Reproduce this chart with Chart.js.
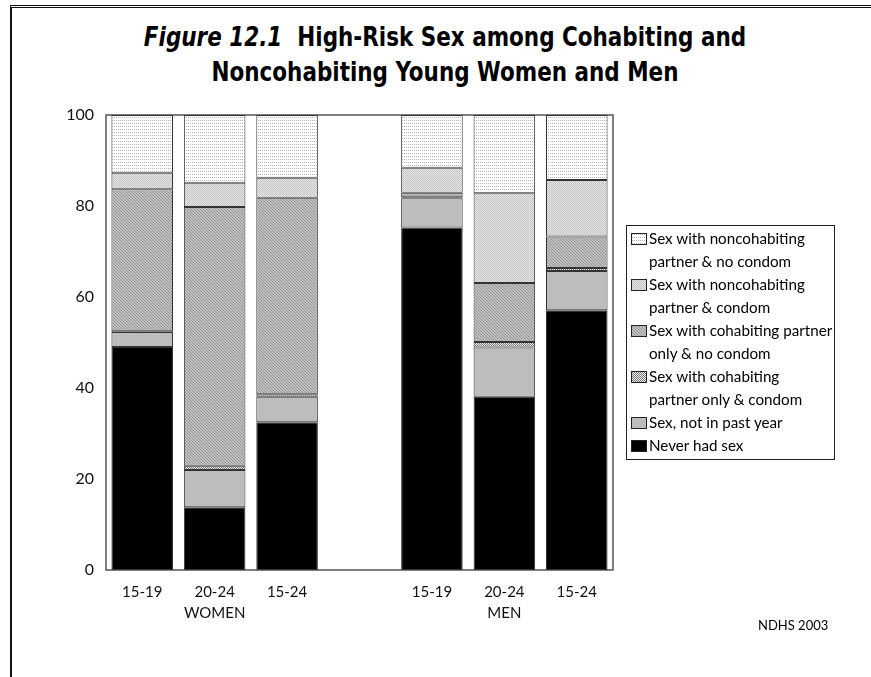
<!DOCTYPE html>
<html>
<head>
<meta charset="utf-8">
<script src="https://cdn.jsdelivr.net/npm/chart.js@4.4.0/dist/chart.umd.min.js"></script>
<style>
  body { margin: 0; background: #fff; }
  #wrap { position: relative; width: 871px; height: 677px; overflow: hidden; }
  #frame { position: absolute; left: 10px; top: 5px; right: -5px; bottom: -5px; border-left: 2px solid #111; border-top: 3px double #111; }
  #title { position: absolute; left: 0; width: 890px; top: 19px; text-align: center;
           font-family: "Liberation Sans Narrow", "DejaVu Sans Condensed", sans-serif; font-weight: bold;
           font-size: 27px; line-height: 35px; color: #000; transform: scaleX(0.885); transform-origin: 445px 0; }
  #title i { font-weight: bold; }
  #mycanvas { position: absolute; left: 0; top: 0; }
  #legend { position: absolute; left: 626px; top: 225px; width: 207px; border: 1px solid #222;
            font-family: Lato, "Open Sans", sans-serif; font-size: 15.2px; line-height: 23px; padding: 1px 0 2px 0;
            white-space: nowrap; }
  .item { position: relative; padding-left: 22px; }
  .item canvas { position: absolute; left: 4px; top: 6px; border: 1px solid #222; }
  #note { position: absolute; left: 758px; top: 617px; font-family: Lato, sans-serif; font-size: 13px; }
</style>
</head>
<body>
<div id="wrap">
  <div id="frame"></div>
  <div id="title"><i>Figure 12.1</i>&nbsp; High-Risk Sex among Cohabiting and<br>Noncohabiting Young Women and Men</div>
  <canvas id="mycanvas" width="871" height="677"></canvas>
  <div id="legend"></div>
  <div id="note">NDHS 2003</div>
</div>
<script>
// age groups on the x axis, with an empty slot between women and men
var ageLabels = ['15-19', '20-24', '15-24', '', '15-19', '20-24', '15-24'];
var groupLabels = ['', 'WOMEN', '', '', '', 'MEN', ''];
var yTicks = [0, 20, 40, 60, 80, 100];

var neverSex         = [49.0, 13.8, 32.5, null, 75.3, 38.1, 57.1];
var notPastYear      = [3.3, 8.2, 5.6, null, 6.4, 10.8, 8.6];
var cohabCondom      = [0.2, 0.9, 0.5, null, 0.2, 1.2, 0.7];
var cohabNoCondom    = [31.2, 56.9, 43.2, null, 1.0, 13.0, 6.9];
var noncohabCondom   = [3.6, 5.3, 4.4, null, 5.5, 19.7, 12.4];
var noncohabNoCondom = [12.7, 14.9, 13.8, null, 11.6, 17.2, 14.3];

var seriesNames = [
    ['Sex with noncohabiting', 'partner & no condom'],
    ['Sex with noncohabiting', 'partner & condom'],
    ['Sex with cohabiting partner', 'only & no condom'],
    ['Sex with cohabiting', 'partner only & condom'],
    ['Sex, not in past year'],
    ['Never had sex']
];

// little tiles for the grey screen fills
function makeTile(w, h, bg, draw) {
    var c = document.createElement('canvas');
    c.width = w; c.height = h;
    var g = c.getContext('2d');
    g.fillStyle = bg; g.fillRect(0, 0, w, h);
    draw(g);
    return c;
}
var tiles = {
    noncohabNo: makeTile(2, 3, '#ffffff', function(g) { g.fillStyle = '#b8b8b8'; g.fillRect(0, 0, 1, 1); }),
    noncohabYes: makeTile(2, 2, '#e6e6e6', function(g) { g.fillStyle = '#c4c4c4'; g.fillRect(0, 0, 1, 1); g.fillRect(1, 1, 1, 1); }),
    cohabNo: makeTile(3, 3, '#c2c2c2', function(g) { g.fillStyle = '#909090'; g.fillRect(0, 0, 1, 1); g.fillRect(1, 1, 1, 1); g.fillRect(2, 2, 1, 1); }),
    cohabYes: makeTile(2, 2, '#eeeeee', function(g) { g.fillStyle = '#777777'; g.fillRect(0, 0, 1, 1); g.fillRect(1, 1, 1, 1); })
};
var ctx = document.getElementById('mycanvas').getContext('2d');
function pat(t) { return ctx.createPattern(t, 'repeat'); }

var fills = ['#000000', '#bdbdbd', pat(tiles.cohabYes), pat(tiles.cohabNo), pat(tiles.noncohabYes), pat(tiles.noncohabNo)];
var swatch = [tiles.noncohabNo, tiles.noncohabYes, tiles.cohabNo, tiles.cohabYes, '#bdbdbd', '#000000'];

var boxPlugin = {
    id: 'box',
    beforeDatasetsDraw: function(chart) {
        var a = chart.chartArea, c = chart.ctx;
        c.save();
        c.strokeStyle = '#555';
        c.lineWidth = 1.5;
        c.strokeRect(a.left, a.top, a.right - a.left, a.bottom - a.top);
        c.restore();
    }
};

var labels = ageLabels.map(function(a, i) { return groupLabels[i] ? [a, groupLabels[i]] : a; });

var myChart = new Chart(ctx, {
    type: 'bar',
    data: {
        labels: labels,
        datasets: [
            { label: 'Never had sex', data: neverSex },
            { label: 'Sex, not in past year', data: notPastYear },
            { label: 'Sex with cohabiting partner only & condom', data: cohabCondom },
            { label: 'Sex with cohabiting partner only & no condom', data: cohabNoCondom },
            { label: 'Sex with noncohabiting partner & condom', data: noncohabCondom },
            { label: 'Sex with noncohabiting partner & no condom', data: noncohabNoCondom }
        ].map(function(d, i) {
            d.backgroundColor = fills[i];
            d.borderColor = '#333';
            d.borderWidth = 1;
            d.borderSkipped = false;
            d.categoryPercentage = 1;
            d.barPercentage = 0.85;
            return d;
        })
    },
    options: {
        responsive: false,
        animation: false,
        layout: { padding: { left: 0, right: 258, top: 115, bottom: 0 } },
        plugins: { legend: { display: false }, tooltip: { enabled: false } },
        scales: {
            x: {
                stacked: true,
                grid: { display: false },
                border: { display: false },
                ticks: { color: '#111', padding: 3, maxRotation: 0, autoSkip: false,
                         font: { family: 'Lato', size: 15, lineHeight: 1.45 } },
                afterFit: function(s) { s.height = 107; }
            },
            y: {
                stacked: true,
                min: 0, max: 100,
                afterBuildTicks: function(s) { s.ticks = yTicks.map(function(v) { return { value: v }; }); },
                grid: { display: false, drawTicks: false },
                border: { display: false },
                ticks: { color: '#111', padding: 12, font: { family: 'Lato', size: 16 } },
                afterFit: function(s) { s.width = 106; }
            }
        }
    },
    plugins: [boxPlugin]
});

// legend with the same fills
var leg = document.getElementById('legend');
seriesNames.forEach(function(name, i) {
    var div = document.createElement('div');
    div.className = 'item';
    var sw = document.createElement('canvas');
    sw.width = 14; sw.height = 10;
    var g = sw.getContext('2d');
    g.fillStyle = typeof swatch[i] === 'string' ? swatch[i] : g.createPattern(swatch[i], 'repeat');
    g.fillRect(0, 0, 14, 10);
    div.appendChild(sw);
    div.appendChild(document.createTextNode(name[0]));
    if (name[1]) {
        div.appendChild(document.createElement('br'));
        div.appendChild(document.createTextNode(name[1]));
    }
    leg.appendChild(div);
});
</script>
</body>
</html>
